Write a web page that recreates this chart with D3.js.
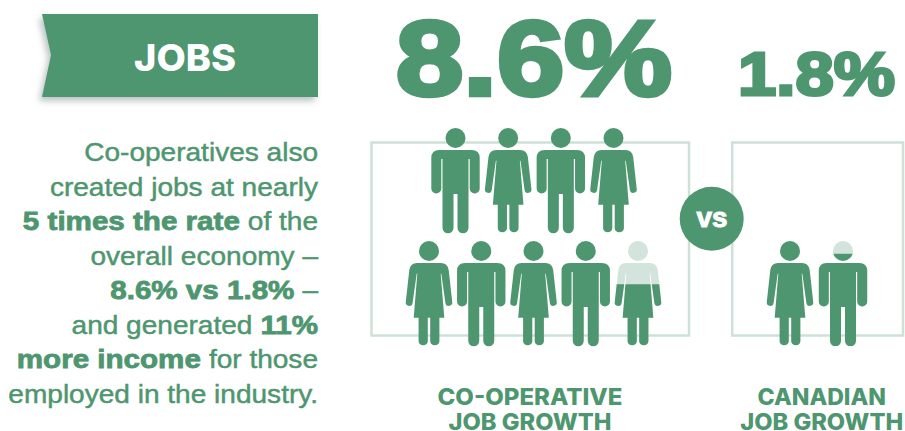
<!DOCTYPE html>
<html>
<head>
<meta charset="utf-8">
<script src="https://cdn.jsdelivr.net/npm/d3@7"></script>
<style>
  html, body { margin: 0; padding: 0; background: #fff; }
  svg { display: block; }
  text { font-family: "Liberation Sans", Arial, sans-serif; }
  .gotham { font-family: Inter, "Liberation Sans", sans-serif; }
</style>
</head>
<body>
<div id="chart"></div>
<script>
// values
const seriesNames = [["CO-OPERATIVE", "JOB GROWTH"], ["CANADIAN", "JOB GROWTH"]];
const labelWidths = [[185, 163], [128.5, 163]];
const growthLabels = ["8.6%", "1.8%"];
const coopTop = ["man", "woman", "man", "woman"];
const coopBottom = ["woman", "man", "woman", "man", "woman"];
const coopBottomFill = [1, 1, 1, 1, 0.59];
const canadaBottom = ["woman", "man"];
const canadaBottomFill = [1, 0.88];
const bodyLines = [
  [["Co-operatives also", 0]],
  [["created jobs at nearly", 0]],
  [["5 times the rate", 1], ["of the", 0]],
  [["overall economy –", 0]],
  [["8.6% vs 1.8%", 1], ["–", 0]],
  [["and generated", 0], ["11%", 1]],
  [["more income", 1], ["for those", 0]],
  [["employed in the industry.", 0]]
];

const width = 905;
const height = 431;
const green = "#4e966f";
const tint = "#d3e4dc";
const frame = "#cde1d7";

const svg = d3.select("#chart").append("svg").attr("width", width).attr("height", height);

const defs = svg.append("defs");
const shadow = defs.append("filter").attr("id", "shadow").attr("x", "-10%").attr("y", "-20%").attr("width", "120%").attr("height", "150%");
shadow.append("feDropShadow").attr("dx", -3).attr("dy", 4).attr("stdDeviation", 3).attr("flood-color", "#6b7a80").attr("flood-opacity", 0.45);

// banner
svg.append("path")
  .attr("d", "M42,14H318V97H42L51,55Z")
  .attr("fill", green)
  .attr("filter", "url(#shadow)");
svg.append("text").attr("class", "gotham").attr("x", 185).attr("y", 71).attr("text-anchor", "middle")
  .attr("fill", "#fff").attr("font-size", 37).attr("font-weight", 800)
  .attr("textLength", 102).attr("lengthAdjust", "spacingAndGlyphs").text("JOBS");

// paragraph, right aligned; segments are placed from the right edge
const lineY = d3.scalePoint().domain(d3.range(bodyLines.length)).range([161, 402.5]);
const para = svg.append("g").attr("fill", green).attr("stroke", green).attr("font-size", 25.5).attr("text-anchor", "end");
const stretch = [1.1, 1.16];
bodyLines.forEach((segments, i) => {
  let right = 318;
  segments.slice().reverse().forEach(([str, heavy]) => {
    const t = para.append("text")
      .attr("font-weight", heavy ? 700 : 400)
      .attr("stroke-width", heavy ? 0.8 : 0.45)
      .attr("transform", `translate(${right},${lineY(i)}) scale(${stretch[heavy]},1)`)
      .text(str);
    right -= t.node().getComputedTextLength() * stretch[heavy] + 8;
  });
});

// headline numbers
svg.append("text").attr("x", 396).attr("y", 95).attr("fill", green).attr("stroke", green).attr("stroke-width", 4.5)
  .attr("font-size", 105).attr("font-weight", 700)
  .attr("textLength", 276).attr("lengthAdjust", "spacingAndGlyphs").text(growthLabels[0]);
svg.append("text").attr("x", 738).attr("y", 95).attr("fill", green).attr("stroke", green).attr("stroke-width", 3)
  .attr("font-size", 62).attr("font-weight", 700)
  .attr("textLength", 157).attr("lengthAdjust", "spacingAndGlyphs").text(growthLabels[1]);

// panels
svg.append("rect").attr("x", 371.5).attr("y", 142.5).attr("width", 317.5).attr("height", 193)
  .attr("fill", "none").attr("stroke", frame).attr("stroke-width", 2.5);
svg.append("rect").attr("x", 732.2).attr("y", 142.5).attr("width", 170.8).attr("height", 193)
  .attr("fill", "none").attr("stroke", frame).attr("stroke-width", 2.5);

// figures: local origin is the centre of the head
const bodyPath = {
  man: "M-16,12H16Q24.2,12 24.2,20V50.5A5,5 0 0 1 14.2,50.5V21H13V89.8A5.5,5.5 0 0 1 2,89.8V56H-2V89.8A5.5,5.5 0 0 1 -13,89.8V21H-14.2V50.5A5,5 0 0 1 -24.2,50.5V20Q-24.2,12 -16,12Z",
  woman: "M-12,12H12Q18.5,12 19.7,19L23.2,50.8A3.4,3.4 0 0 1 16.4,52L12.3,22.7H11.7L15.3,66.7H10.4V90.6A4.7,4.7 0 0 1 1.2,90.6V66.7H-1.2V90.6A4.7,4.7 0 0 1 -10.4,90.6V66.7H-15.3L-11.7,22.7H-12.3L-16.4,52A3.4,3.4 0 0 1 -23.2,50.8L-19.7,19Q-18.5,12 -12,12Z"
};
const headR = 10;
const figureTop = -headR;
const figureBottom = 95.3;
const fillY = d3.scaleLinear().domain([0, 1]).range([figureBottom, figureTop]);
let clipId = 0;

function drawFigure(sel, kind, fill) {
  function shape(parent, color) {
    parent.append("circle").attr("r", headR).attr("fill", color);
    parent.append("path").attr("d", bodyPath[kind]).attr("fill", color);
  }
  if (fill >= 1) { shape(sel, green); return; }
  shape(sel, tint);
  const id = "fill" + clipId++;
  defs.append("clipPath").attr("id", id).append("rect")
    .attr("x", -30).attr("y", fillY(fill)).attr("width", 60).attr("height", figureBottom - fillY(fill));
  shape(sel.append("g").attr("clip-path", `url(#${id})`), green);
}

function drawRow(kinds, fills, x0, x1, headY) {
  const x = d3.scalePoint().domain(d3.range(kinds.length)).range([x0, x1]);
  kinds.forEach((kind, i) => {
    const g = svg.append("g").attr("transform", `translate(${x(i)},${headY})`);
    drawFigure(g, kind, fills ? fills[i] : 1);
  });
}
drawRow(coopTop, null, 455.5, 613.5, 138);
drawRow(coopBottom, coopBottomFill, 429, 638, 251);
drawRow(canadaBottom, canadaBottomFill, 790, 843, 251);

// vs badge
svg.append("circle").attr("cx", 711.7).attr("cy", 218.7).attr("r", 32).attr("fill", green);
svg.append("text").attr("x", 712).attr("y", 226.5).attr("text-anchor", "middle").attr("fill", "#fff").attr("stroke", "#fff").attr("stroke-width", 1)
  .attr("font-size", 28).attr("font-weight", 700).attr("textLength", 31).attr("lengthAdjust", "spacingAndGlyphs").text("vs");

// bottom labels
const labelX = [530, 821.7];
seriesNames.forEach((lines, i) => {
  lines.forEach((str, j) => {
    svg.append("text").attr("class", "gotham").attr("x", labelX[i]).attr("y", 405 + j * 25).attr("text-anchor", "middle")
      .attr("fill", green).attr("font-size", 22.5).attr("font-weight", 800)
      .attr("textLength", labelWidths[i][j]).attr("lengthAdjust", "spacingAndGlyphs").text(str);
  });
});
</script>
</body>
</html>
